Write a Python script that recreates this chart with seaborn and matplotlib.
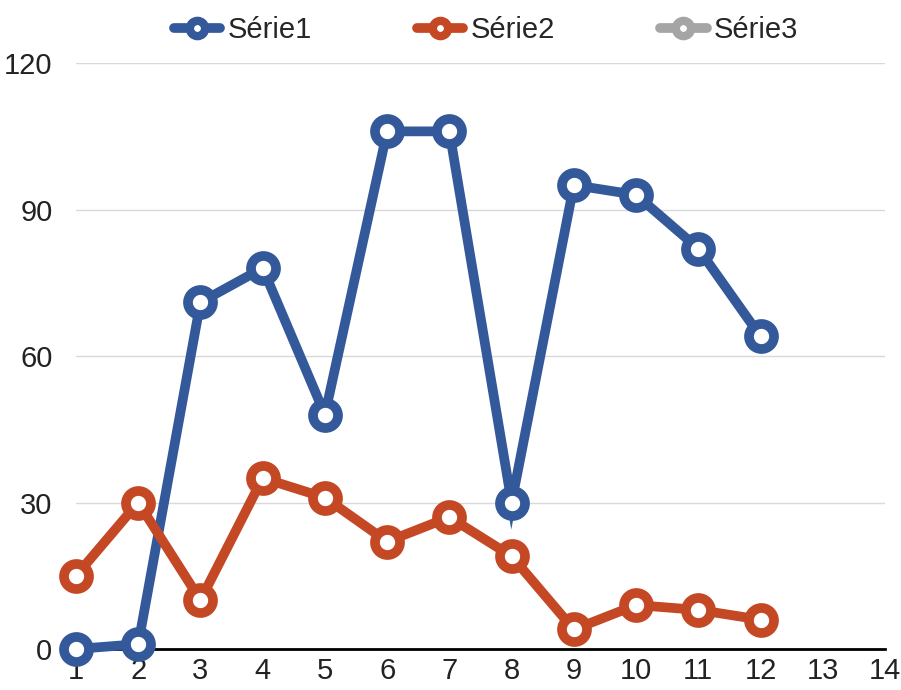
import matplotlib
matplotlib.use("Agg")
import matplotlib.pyplot as plt
from matplotlib.lines import Line2D
import seaborn as sns
import pandas as pd

x_vals = [1, 2, 3, 4, 5, 6, 7, 8, 9, 10, 11, 12]
serie1 = [0, 1, 71, 78, 48, 106, 106, 30, 95, 93, 82, 64]
serie2 = [15, 30, 10, 35, 31, 22, 27, 19, 4, 9, 8, 6]
series_names = ["Série1", "Série2", "Série3"]
colors = ["#34599a", "#c54825", "#a5a5a5"]
y_ticks = [0, 30, 60, 90, 120]
x_ticks = list(range(1, 15))

sns.set_theme(style="white")
plt.rcParams['font.family'] = ['Liberation Sans', 'DejaVu Sans']

df = pd.DataFrame({
    "x": x_vals * 2,
    "y": serie1 + serie2,
    "serie": [series_names[0]] * len(serie1) + [series_names[1]] * len(serie2),
})

fig = plt.figure(figsize=(9.01, 6.90), dpi=100)
ax = fig.add_axes([76/901, 1-649/690, (885-76)/901, (649-63)/690])

for i, name in enumerate(series_names[:2]):
    sub = df[df["serie"] == name]
    sns.lineplot(data=sub, x="x", y="y", ax=ax, color=colors[i], lw=7,
                 marker="o", markersize=18, markerfacecolor="white",
                 markeredgecolor=colors[i], markeredgewidth=7,
                 solid_joinstyle="miter",
                 clip_on=False, zorder=3 + i, legend=False)

ax.set_xlim(1, 14)
ax.set_ylim(0, 120)
ax.set_xticks(x_ticks)
ax.set_yticks(y_ticks)
ax.set_xlabel("")
ax.set_ylabel("")
ax.grid(axis="y", color="#d9d9d9", lw=1)
ax.grid(axis="x", visible=False)
for s in ["top", "right", "left"]:
    ax.spines[s].set_visible(False)
ax.spines["bottom"].set_color("black")
ax.spines["bottom"].set_linewidth(2)
ax.spines["bottom"].set_zorder(2)
ax.tick_params(axis="both", length=0, labelsize=21, colors="#222222")
ax.tick_params(axis="y", pad=17)
ax.tick_params(axis="x", pad=6)

handles = [Line2D([0], [0], color=c, lw=7, marker="o", markersize=11,
                  markerfacecolor="white", markeredgecolor=c, markeredgewidth=6)
           for c in colors]
fig.legend(handles, series_names, loc="center", bbox_to_anchor=(486/901, 1-30/690),
           ncol=3, frameon=False, fontsize=21, handlelength=1.6, columnspacing=3.6,
           handletextpad=0.25)

fig.savefig("out.png", dpi=100)
